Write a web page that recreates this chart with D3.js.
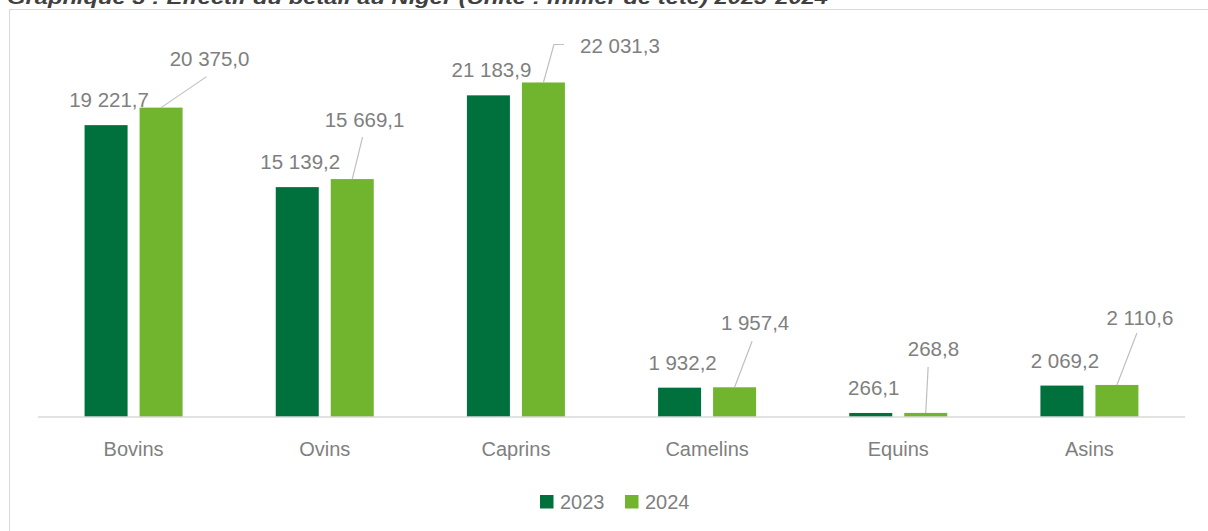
<!DOCTYPE html>
<html>
<head>
<meta charset="utf-8">
<script src="https://cdn.jsdelivr.net/npm/d3@7"></script>
<style>
  html, body { margin: 0; padding: 0; background: #fff; overflow: hidden; }
  svg { display: block; }
</style>
</head>
<body>
<script>
// ---- data ----
const categories = ["Bovins", "Ovins", "Caprins", "Camelins", "Equins", "Asins"];
const seriesNames = ["2023", "2024"];
const values2023 = [19221.7, 15139.2, 21183.9, 1932.2, 266.1, 2069.2];
const values2024 = [20375.0, 15669.1, 22031.3, 1957.4, 268.8, 2110.6];
const titleText = "Graphique 3 : Effectif du bétail au Niger (Unité : millier de tête) 2023-2024";

// ---- layout (styles/positions kept apart from data) ----
const W = 1208, H = 531;
const colors = ["#00703c", "#70b52d"];
const textGray = "#7f7f7f";
// 2024 callout label offsets relative to bar top centre: [dx label centre, dy baseline, leader end dx, dy, elbow dx]
const calloutOffsets = [
  [48.5, -42, 45.5, -31, null],
  [12.3, -52, 10.3, -42, null],
  [76.5, -29, 10.5, -38, 20.5],
  [20.5, -57, 17.5, -46, null],
  [7.7, -57, 2.4, -46, null],
  [23, -60, 20, -52, null]
];

const svg = d3.select("body").append("svg").attr("width", W).attr("height", H);
svg.append("rect").attr("width", W).attr("height", H).attr("fill", "#fff");

// title (partially cut off at top, as in reference)
svg.append("text")
  .attr("x", 7).attr("y", 4)
  .attr("font-family", "Liberation Sans, Arial, sans-serif")
  .attr("font-size", 19).attr("font-weight", "bold").attr("font-style", "italic")
  .attr("fill", "#404040")
  .attr("textLength", 821).attr("lengthAdjust", "spacingAndGlyphs")
  .text(titleText);

// chart frame
svg.append("rect")
  .attr("x", 9.5).attr("y", 9.5).attr("width", W + 20).attr("height", H + 20)
  .attr("fill", "none").attr("stroke", "#d9d9d9").attr("stroke-width", 1);

const plotLeft = 38, plotRight = 1185, plotTop = 37.4, plotBottom = 417;

const x0 = d3.scaleBand().domain(categories).range([plotLeft, plotRight]).paddingInner(0).paddingOuter(0);
const barW = 43, gap = 12;
const x1 = d3.scaleOrdinal().domain(seriesNames).range([
  (x0.bandwidth() - (2 * barW + gap)) / 2,
  (x0.bandwidth() - (2 * barW + gap)) / 2 + barW + gap
]);
const y = d3.scaleLinear().domain([0, 25000]).range([plotBottom, plotTop]);

const rows = categories.map((c, i) => ({ cat: c, i, v: [values2023[i], values2024[i]] }));

// bars
const g = svg.append("g");
seriesNames.forEach((s, si) => {
  g.selectAll(".bar" + si).data(rows).enter().append("rect")
    .attr("x", d => x0(d.cat) + x1(s))
    .attr("y", d => y(d.v[si]))
    .attr("width", barW)
    .attr("height", d => y(0) - y(d.v[si]))
    .attr("fill", colors[si]);
});

// axis
const axis = d3.axisBottom(x0).tickSize(0).tickPadding(0);
const axG = svg.append("g").attr("transform", `translate(0,${plotBottom})`).call(axis);
axG.select(".domain").attr("stroke", "#d9d9d9").attr("stroke-width", 1.5).attr("d", `M${plotLeft},0H${plotRight}`);
axG.selectAll(".tick text")
  .attr("y", 39).attr("dy", 0)
  .attr("font-family", "Liberation Sans, Arial, sans-serif")
  .attr("font-size", 20).attr("fill", textGray);

const fmt = v => {
  const s = v.toFixed(1).replace(".", ",");
  const [ip, dp] = s.split(",");
  return ip.replace(/\B(?=(\d{3})+(?!\d))/g, " ") + "," + dp;
};

// 2023 labels (above bars)
svg.selectAll(".lab23").data(rows).enter().append("text")
  .attr("x", d => x0(d.cat) + x1("2023") + barW / 2 + 3)
  .attr("y", d => y(d.v[0]) - 18)
  .attr("text-anchor", "middle")
  .attr("font-family", "Liberation Sans, Arial, sans-serif")
  .attr("font-size", 20.5).attr("fill", textGray)
  .text(d => fmt(d.v[0]));

// 2024 callout labels with leader lines
rows.forEach((d, i) => {
  const cx = x0(d.cat) + x1("2024") + barW / 2;
  const ty = y(d.v[1]);
  const o = calloutOffsets[i];
  let pts = [[cx, ty], [cx + o[2], ty + o[3]]];
  if (o[4] !== null) pts.push([cx + o[4], ty + o[3]]);
  svg.append("path")
    .attr("d", d3.line()(pts))
    .attr("fill", "none").attr("stroke", "#bfbfbf").attr("stroke-width", 1.2);
  svg.append("text")
    .attr("x", cx + o[0]).attr("y", ty + o[1])
    .attr("text-anchor", "middle")
    .attr("font-family", "Liberation Sans, Arial, sans-serif")
    .attr("font-size", 20.5).attr("fill", textGray)
    .text(fmt(d.v[1]));
});

// legend
const legend = svg.append("g");
const legX = [540, 625];
seriesNames.forEach((s, i) => {
  legend.append("rect").attr("x", legX[i]).attr("y", 495).attr("width", 13.5).attr("height", 13.5).attr("fill", colors[i]);
  legend.append("text").attr("x", legX[i] + 20).attr("y", 508.5)
    .attr("font-family", "Liberation Sans, Arial, sans-serif")
    .attr("font-size", 20).attr("fill", textGray).text(s);
});
</script>
</body>
</html>
